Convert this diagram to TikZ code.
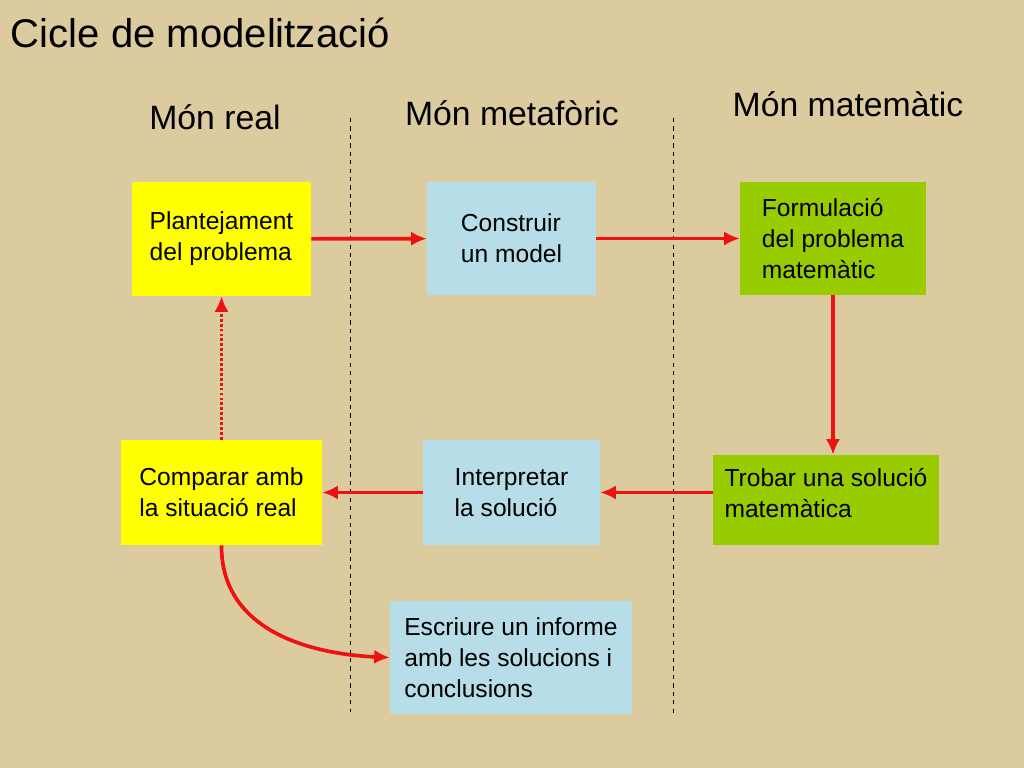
\documentclass[tikz,border=0pt]{standalone}
\usepackage{fontspec}
\setmainfont{Liberation Sans}
\usetikzlibrary{positioning,arrows.meta}
\definecolor{paper}{HTML}{DCCB9E}
\definecolor{boxyellow}{HTML}{FFFF00}
\definecolor{boxblue}{HTML}{B7DDE8}
\definecolor{boxgreen}{HTML}{99CC00}
\definecolor{arrowred}{HTML}{EE1111}
\tikzset{
  stepbox/.style={draw=none,minimum width=#1,align=left,inner sep=0pt,font=\fontsize{17.5}{22}\selectfont},
  realbox/.style={stepbox=4.5cm,fill=boxyellow},
  metabox/.style={stepbox=4.3cm,fill=boxblue},
  matbox/.style={stepbox=4.6cm,fill=boxgreen},
  flow/.style={arrowred,line width=2.6pt,-{Latex[length=11pt,width=10pt]}},
  worldtitle/.style={font=\fontsize{24}{28}\selectfont},
  border/.style={dashed,line width=0.5pt}
}
\begin{document}
\begin{tikzpicture}[x=0.025cm,y=-0.025cm]
  \fill[paper] (0,0) rectangle (1024,768);
  \node[anchor=west,font=\fontsize{28.5}{32}\selectfont] (title) at (6,33) {Cicle de modelització};
  \node[worldtitle] (real) at (215,117) {Món real};
  \node[worldtitle] (meta) at (512,113) {Món metafòric};
  \node[worldtitle] (mat) at (848,104) {Món matemàtic};

  \draw[border] (350,118) -- (350,712);
  \draw[border] (673,118) -- (673,714);

  \node[realbox,minimum width=4.475cm,minimum height=2.85cm] (plant) at (221.5,239) {Plantejament\\del problema};
  \node[metabox,minimum width=4.225cm,minimum height=2.825cm] (model) at (511.5,238.5) {Construir\\un model};
  \node[matbox,minimum width=4.65cm,minimum height=2.825cm] (formul) at (833,238.5) {Formulació\\del problema\\matemàtic};
  \node[realbox,minimum width=5.025cm,minimum height=2.625cm] (compar) at (221.5,492.5) {Comparar amb\\la situació real};
  \node[metabox,minimum width=4.425cm,minimum height=2.625cm] (interp) at (511.5,492.5) {Interpretar\\la solució};
  \node[matbox,minimum width=5.65cm,minimum height=2.25cm,text depth=0.35cm] (trobar) at (826,500) {Trobar una solució\\matemàtica};
  \node[metabox,minimum width=6.05cm,minimum height=2.825cm] (inform) at (511,657.5) {Escriure un informe\\amb les solucions i\\conclusions};

  \draw[flow] (plant) -- (model);
  \draw[flow] (model) -- (formul);
  \draw[flow] (formul) -- (trobar.north -| formul);
  \draw[flow] (trobar.west |- interp) -- (interp);
  \draw[flow] (interp) -- (compar);
  \draw[flow,dash pattern=on 2pt off 1.5pt] (compar) -- (plant);
  \draw[flow] (compar.south) .. controls (221,640) and (330,655) .. (inform.west);
\end{tikzpicture}
\end{document}
